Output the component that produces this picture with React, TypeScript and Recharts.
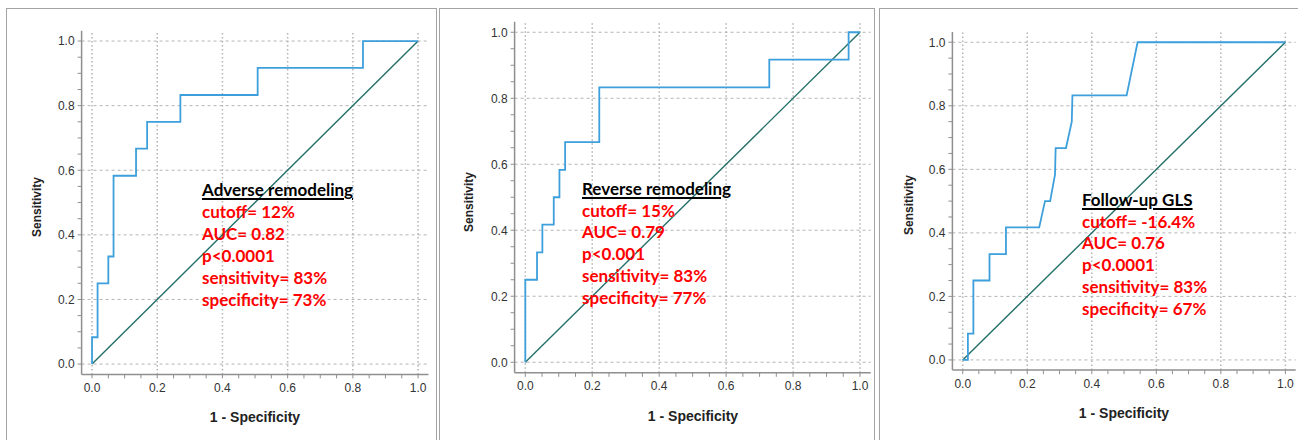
import { Line, LineChart, ReferenceLine, XAxis, YAxis } from "recharts";

// axis ticks (minor every 0.05, labelled every 0.2)
const majorTicks = [0, 0.2, 0.4, 0.6, 0.8, 1.0];
const tickLabels = ["0.0", "0.2", "0.4", "0.6", "0.8", "1.0"];
const minorTicks = [
  0, 0.05, 0.1, 0.15, 0.2, 0.25, 0.3, 0.35, 0.4, 0.45, 0.5, 0.55, 0.6, 0.65, 0.7, 0.75, 0.8, 0.85, 0.9,
  0.95, 1.0,
];
const axisDomain = [-0.032, 1.032];

// reference diagonal
const diagX = [0, 1];
const diagY = [0, 1];

// Adverse remodeling ROC
const adverseFpr = [0, 0, 0.017, 0.017, 0.05, 0.05, 0.066, 0.066, 0.135, 0.135, 0.169, 0.169, 0.271, 0.271, 0.508, 0.508, 0.831, 0.831, 1.0];
const adverseTpr = [0, 0.083, 0.083, 0.25, 0.25, 0.333, 0.333, 0.583, 0.583, 0.667, 0.667, 0.75, 0.75, 0.833, 0.833, 0.917, 0.917, 1.0, 1.0];

// Reverse remodeling ROC
const reverseFpr = [0, 0, 0.035, 0.035, 0.051, 0.051, 0.085, 0.085, 0.102, 0.102, 0.119, 0.119, 0.221, 0.221, 0.729, 0.729, 0.966, 0.966, 1.0];
const reverseTpr = [0, 0.25, 0.25, 0.333, 0.333, 0.417, 0.417, 0.5, 0.5, 0.583, 0.583, 0.667, 0.667, 0.833, 0.833, 0.917, 0.917, 1.0, 1.0];

// Follow-up GLS ROC
const glsFpr = [0, 0.016, 0.016, 0.033, 0.033, 0.083, 0.083, 0.134, 0.134, 0.237, 0.255, 0.271, 0.286, 0.288, 0.32, 0.338, 0.34, 0.508, 0.542, 1.0];
const glsTpr = [0, 0, 0.083, 0.083, 0.25, 0.25, 0.333, 0.333, 0.417, 0.417, 0.5, 0.5, 0.583, 0.667, 0.667, 0.75, 0.833, 0.833, 1.0, 1.0];

const adverseText = ["cutoff= 12%", "AUC= 0.82", "p<0.0001", "sensitivity= 83%", "specificity= 73%"];
const reverseText = ["cutoff= 15%", "AUC= 0.79", "p<0.001", "sensitivity= 83%", "specificity= 77%"];
const glsText = ["cutoff= -16.4%", "AUC= 0.76", "p<0.0001", "sensitivity= 83%", "specificity= 67%"];

const toPoints = (xs: number[], ys: number[]) => xs.map((x, i) => ({ x, y: ys[i] }));

const fmtTick = (v: number) => {
  const i = majorTicks.findIndex((m) => Math.abs(m - v) < 1e-6);
  return i >= 0 ? tickLabels[i] : "";
};

const AXIS_GRAY = "#8f8f8f";
const GRID_GRAY = "#b4b4b4";
const TICK_STYLE = { fontSize: 12, fill: "#333", fontFamily: "Liberation Sans, Arial, sans-serif" };

type Rect = { x: number; y: number; w: number; h: number };

function RocPanel({
  chartLeft,
  chartWidth,
  plot,
  fpr,
  tpr,
}: {
  chartLeft: number;
  chartWidth: number;
  plot: Rect;
  fpr: number[];
  tpr: number[];
}) {
  const H = 440;
  const yAxisW = 40;
  const xAxisH = 30;
  const margin = {
    top: plot.y,
    left: plot.x - chartLeft - yAxisW,
    right: chartLeft + chartWidth - (plot.x + plot.w),
    bottom: H - (plot.y + plot.h) - xAxisH,
  };
  return (
    <div style={{ position: "absolute", left: chartLeft, top: 0 }}>
      <LineChart width={chartWidth} height={H} margin={margin}>
        <XAxis
          type="number"
          dataKey="x"
          domain={axisDomain}
          allowDataOverflow
          ticks={minorTicks}
          interval={0}
          tickFormatter={fmtTick}
          tick={TICK_STYLE}
          tickSize={4}
          tickMargin={5}
          height={xAxisH}
          axisLine={{ stroke: AXIS_GRAY, strokeWidth: 1.5 }}
          tickLine={{ stroke: AXIS_GRAY }}
        />
        <YAxis
          type="number"
          dataKey="y"
          domain={axisDomain}
          allowDataOverflow
          ticks={minorTicks}
          interval={0}
          tickFormatter={fmtTick}
          tick={TICK_STYLE}
          tickSize={4}
          tickMargin={3}
          width={yAxisW}
          axisLine={{ stroke: AXIS_GRAY, strokeWidth: 1.5 }}
          tickLine={{ stroke: AXIS_GRAY }}
        />
        {majorTicks.map((v) => (
          <ReferenceLine key={"h" + v} y={v} stroke={GRID_GRAY} strokeDasharray="3 3" />
        ))}
        {majorTicks.map((v) => (
          <ReferenceLine key={"v" + v} x={v} stroke={GRID_GRAY} strokeDasharray="1.5 2.5" strokeWidth={1.5} />
        ))}
        <Line
          data={toPoints(diagX, diagY)}
          dataKey="y"
          type="linear"
          stroke="#236f69"
          strokeWidth={1.4}
          dot={false}
          isAnimationActive={false}
        />
        <Line
          data={toPoints(fpr, tpr)}
          dataKey="y"
          type="linear"
          stroke="#3d9fdc"
          strokeWidth={1.8}
          dot={false}
          isAnimationActive={false}
        />
      </LineChart>
    </div>
  );
}

function Frame({ left, width }: { left: number; width: number }) {
  return (
    <div
      style={{
        position: "absolute",
        left,
        top: 8,
        width,
        height: 460,
        boxSizing: "border-box",
        border: "1.5px solid #a3a3a3",
      }}
    />
  );
}

function Annotation({ left, top, title, lines }: { left: number; top: number; title: string; lines: string[] }) {
  return (
    <div
      style={{
        position: "absolute",
        left,
        top,
        fontFamily: "Lato, sans-serif",
        fontWeight: 700,
        fontSize: 17,
        lineHeight: "21.9px",
        whiteSpace: "nowrap",
      }}
    >
      <div
        style={{
          color: "#000",
          textDecoration: "underline",
          textDecorationThickness: "2px",
          textUnderlineOffset: "2px",
        }}
      >
        {title}
      </div>
      {lines.map((t) => (
        <div key={t} style={{ color: "#ff0000" }}>
          {t}
        </div>
      ))}
    </div>
  );
}

function AxisTitle({ x, y, text, rotate }: { x: number; y: number; text: string; rotate?: boolean }) {
  return (
    <div
      style={{
        position: "absolute",
        left: x,
        top: y,
        transform: `translate(-50%, -50%)${rotate ? " rotate(-90deg)" : ""}`,
        fontFamily: "Liberation Sans, Arial, sans-serif",
        fontWeight: 700,
        fontSize: rotate ? 12 : 14,
        color: "#222",
        whiteSpace: "nowrap",
        lineHeight: 1,
      }}
    >
      {text}
    </div>
  );
}

export default function App() {
  return (
    <div
      style={{
        position: "absolute",
        left: 0,
        top: 0,
        width: 1298,
        height: 440,
        overflow: "hidden",
        background: "#fff",
      }}
    >
      <Frame left={6} width={431} />
      <Frame left={439} width={436} />
      <Frame left={879} width={500} />

      <RocPanel chartLeft={10} chartWidth={425} plot={{ x: 81.6, y: 30.7, w: 346.9, h: 343.7 }} fpr={adverseFpr} tpr={adverseTpr} />
      <RocPanel chartLeft={443} chartWidth={430} plot={{ x: 514.6, y: 21.7, w: 356.1, h: 351.1 }} fpr={reverseFpr} tpr={reverseTpr} />
      <RocPanel chartLeft={882} chartWidth={416} plot={{ x: 952.4, y: 32.1, w: 343.3, h: 338 }} fpr={glsFpr} tpr={glsTpr} />

      <AxisTitle x={255} y={417} text="1 - Specificity" />
      <AxisTitle x={693} y={416} text="1 - Specificity" />
      <AxisTitle x={1124} y={413} text="1 - Specificity" />
      <AxisTitle x={37} y={207} text="Sensitivity" rotate />
      <AxisTitle x={469} y={202} text="Sensitivity" rotate />
      <AxisTitle x={909} y={205} text="Sensitivity" rotate />

      <Annotation left={202} top={179.3} title="Adverse remodeling" lines={adverseText} />
      <Annotation left={582} top={177.6} title="Reverse remodeling" lines={reverseText} />
      <Annotation left={1082} top={188.6} title="Follow-up GLS" lines={glsText} />
    </div>
  );
}
